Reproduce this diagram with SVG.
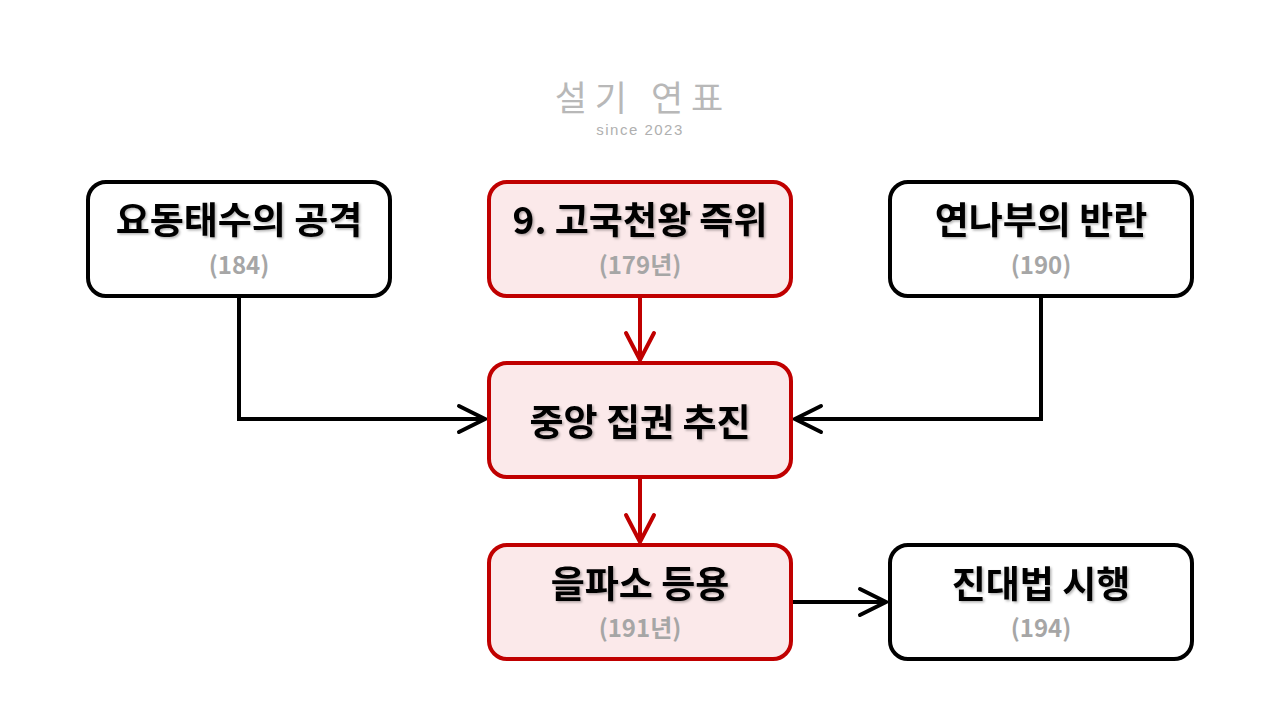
<svg xmlns="http://www.w3.org/2000/svg" width="1280" height="720" viewBox="0 0 1280 720">
<defs>
<style>
.box{stroke-width:4;}
.blk{fill:#ffffff;stroke:#000000;}
.red{fill:#fbe9ea;stroke:#c00000;}
.t{font-family:"Noto Sans CJK KR","Noto Sans",sans-serif;font-weight:700;font-size:37px;fill:#000;text-anchor:middle;filter:url(#sh);}
.s{font-family:"Noto Sans CJK KR","Noto Sans",sans-serif;font-weight:700;font-size:24px;fill:#a6a6a6;text-anchor:middle;}
.h1{font-family:"Noto Sans CJK KR","Noto Sans",sans-serif;font-size:35px;font-weight:400;fill:#b8b8b8;text-anchor:middle;letter-spacing:8px;}
.h2{font-family:"Liberation Sans","Noto Sans",sans-serif;font-size:15px;fill:#b0b0b0;text-anchor:middle;letter-spacing:1.5px;}
.c{fill:none;stroke-width:4;stroke-linejoin:miter;}
.cb{stroke:#000;}
.cr{stroke:#c00000;}
</style>
<filter id="sh" x="-10%" y="-20%" width="120%" height="150%">
<feDropShadow dx="1.5" dy="1.5" stdDeviation="1" flood-color="#000" flood-opacity="0.3"/>
</filter>
<marker id="ab" markerUnits="userSpaceOnUse" viewBox="-30 -16 34 32" refX="0" refY="0" markerWidth="34" markerHeight="32" orient="auto" overflow="visible">
<path d="M-26,-13 L0,0 L-26,13" fill="none" stroke="#000" stroke-width="4" stroke-linecap="round" stroke-linejoin="miter"/>
</marker>
<marker id="ar" markerUnits="userSpaceOnUse" viewBox="-30 -16 34 32" refX="0" refY="0" markerWidth="34" markerHeight="32" orient="auto" overflow="visible">
<path d="M-27,-14 L0,0 L-27,14" fill="none" stroke="#c00000" stroke-width="4" stroke-linecap="round" stroke-linejoin="miter"/>
</marker>
</defs>
<rect width="1280" height="720" fill="#ffffff"/>
<g id="header">
<text class="h1" x="643" y="111">설기 연표</text>
<text class="h2" x="640" y="135">since 2023</text>
</g>
<g id="connectors">
<path class="c cb" d="M239,296 V419 H485" marker-end="url(#ab)"/>
<path class="c cb" d="M1041,296 V419 H795" marker-end="url(#ab)"/>
<path class="c cr" d="M640,296 V360" marker-end="url(#ar)"/>
<path class="c cr" d="M640,477 V542" marker-end="url(#ar)"/>
<path class="c cb" d="M792,602 H886" marker-end="url(#ab)"/>
</g>
<g id="node-liaodong">
<rect class="box blk" x="88" y="182" width="302" height="114" rx="18"/>
<text class="t" x="239" y="234">요동태수의 공격</text>
<text class="s" x="239" y="274">(184)</text>
</g>
<g id="node-gogukcheon">
<rect class="box red" x="489" y="182" width="302" height="114" rx="18"/>
<text class="t" x="640" y="234">9. 고국천왕 즉위</text>
<text class="s" x="640" y="274">(179년)</text>
</g>
<g id="node-yeonnabu">
<rect class="box blk" x="890" y="182" width="302" height="114" rx="18"/>
<text class="t" x="1041" y="234">연나부의 반란</text>
<text class="s" x="1041" y="274">(190)</text>
</g>
<g id="node-central">
<rect class="box red" x="489" y="363" width="302" height="114" rx="18"/>
<text class="t" x="640" y="436">중앙 집권 추진</text>
</g>
<g id="node-eulpaso">
<rect class="box red" x="489" y="545" width="302" height="114" rx="18"/>
<text class="t" x="640" y="598">을파소 등용</text>
<text class="s" x="640" y="637">(191년)</text>
</g>
<g id="node-jindae">
<rect class="box blk" x="890" y="545" width="302" height="114" rx="18"/>
<text class="t" x="1041" y="598">진대법 시행</text>
<text class="s" x="1041" y="637">(194)</text>
</g>
</svg>
